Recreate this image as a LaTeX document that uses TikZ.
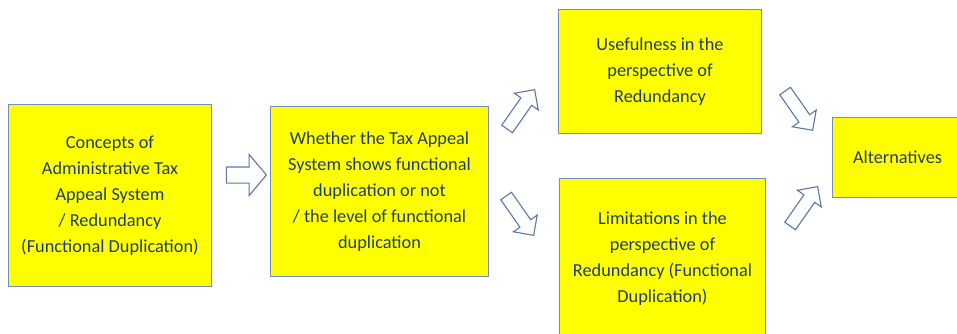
\documentclass[tikz,border=0pt]{standalone}
\usepackage{fontspec}
\setmainfont{Carlito}
\usetikzlibrary{shapes.arrows}
\definecolor{boxyellow}{HTML}{FFFF00}
\definecolor{boxline}{HTML}{6F8FC4}
\definecolor{textblue}{HTML}{213D66}
\definecolor{arrowline}{HTML}{5878AC}
\tikzset{
  stagebox/.style={draw=boxline, line width=1pt, fill=boxyellow, text=textblue, align=center,
    font=\fontsize{18.3}{26}\selectfont, inner sep=0pt, anchor=north west},
  blockarrow/.style={single arrow, draw=arrowline, line width=1.1pt, fill=white, inner xsep=0pt}
}

\begin{document}
\begin{tikzpicture}[x=1pt, y=-1pt]
			%%%%% START %%%%%
			\useasboundingbox (0, 0) rectangle (957, 333);
			
			\node[stagebox, minimum width=203pt, minimum height=182pt] (concepts) at (8, 104)
				{Concepts of\\Administrative Tax\\Appeal System\\/ Redundancy\\(Functional Duplication)};
			\node[stagebox, minimum width=218pt, minimum height=170pt] (whether) at (270, 106)
				{Whether the Tax Appeal\\System shows functional\\duplication or not\\/ the level of functional\\duplication};
			
			\node[stagebox, minimum width=203pt, minimum height=124pt] (usefulness) at (558, 9)
				{Usefulness in the\\perspective of\\Redundancy};
			\node[stagebox, minimum width=206pt, minimum height=160pt] (limitations) at (559, 178)
				{Limitations in the\\perspective of\\Redundancy (Functional\\Duplication)};
			
			\node[stagebox, minimum width=130pt, minimum height=80pt] (alternatives) at (832, 117)
				{Alternatives};
			
			% block arrows
			\node[blockarrow, inner ysep=7.5pt, minimum height=40pt, single arrow head extend=12.5pt,
				single arrow tip angle=100] (toWhether) at (243, 175) {};
			\node[blockarrow, inner ysep=6pt, minimum height=48pt, single arrow head extend=8pt,
				single arrow tip angle=90, rotate=55] (toUseful) at (519, 112) {};
			\node[blockarrow, inner ysep=6pt, minimum height=48pt, single arrow head extend=8pt,
				single arrow tip angle=90, rotate=-55] (toLimits) at (518, 213) {};
			\node[blockarrow, inner ysep=6pt, minimum height=48pt, single arrow head extend=8pt,
				single arrow tip angle=90, rotate=-55] (fromUseful) at (797, 108) {};
			\node[blockarrow, inner ysep=6pt, minimum height=48pt, single arrow head extend=8pt,
				single arrow tip angle=90, rotate=55] (fromLimits) at (802, 209) {};
			
			%%%%% END %%%%%
\end{tikzpicture}
\end{document}
